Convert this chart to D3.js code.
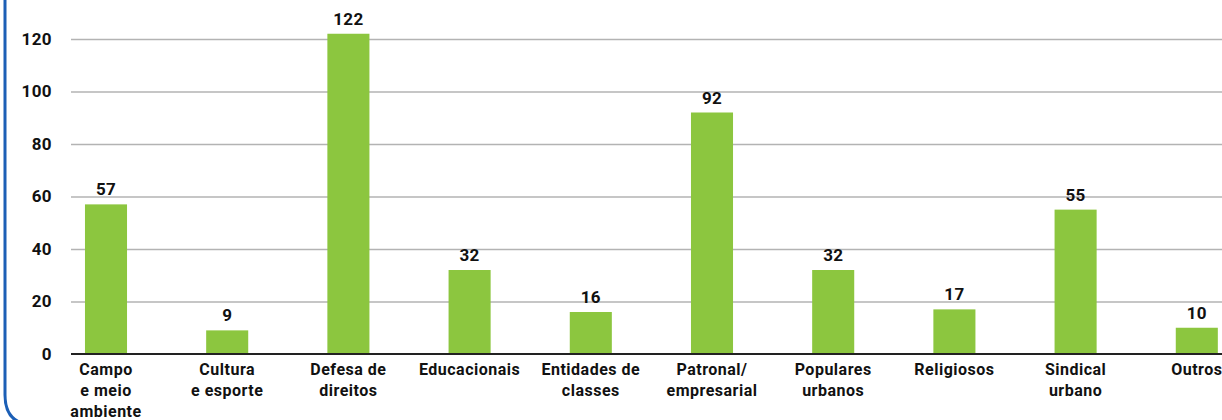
<!DOCTYPE html>
<html><head><meta charset="utf-8">
<script src="https://cdn.jsdelivr.net/npm/d3@7"></script>
<style>
html,body{margin:0;padding:0;background:#fff;overflow:hidden;}
svg{display:block;font-family:Roboto,"Open Sans",sans-serif;}
</style></head>
<body>
<svg id="c" width="1222" height="420"></svg>
<script>
const categories = [
  ["Campo","e meio","ambiente"],
  ["Cultura","e esporte"],
  ["Defesa de","direitos"],
  ["Educacionais"],
  ["Entidades de","classes"],
  ["Patronal/","empresarial"],
  ["Populares","urbanos"],
  ["Religiosos"],
  ["Sindical","urbano"],
  ["Outros"]
];
const values = [57, 9, 122, 32, 16, 92, 32, 17, 55, 10];
const yTicks = [0, 20, 40, 60, 80, 100, 120];

const svg = d3.select("#c");
const keys = categories.map((c,i)=>i);

const x = d3.scaleBand().domain(keys).range([45.4, 1257.4])
  .paddingInner(0.653).paddingOuter(0.3265);
const y = d3.scaleLinear().domain([0, 120]).range([354, 39]);

// border
svg.append("path")
  .attr("d", "M5,-5 L5,395 Q5,425 35,425 L1300,425")
  .attr("fill","none").attr("stroke","#1c5fb6").attr("stroke-width",3);

// gridlines
const grid = svg.append("g").attr("transform","translate(71,0)")
  .call(d3.axisLeft(y).tickValues(yTicks.filter(t=>t>0)).tickSize(-1160).tickFormat(""));
grid.select(".domain").remove();
grid.selectAll("line").attr("stroke","#b3b3b3").attr("stroke-width",1.5);

// y tick labels
const yAxis = svg.append("g").attr("transform","translate(52,0)")
  .call(d3.axisLeft(y).tickValues(yTicks).tickSize(0).tickPadding(0));
yAxis.select(".domain").remove();
yAxis.selectAll("text").attr("font-size",17).attr("font-weight",700)
  .attr("letter-spacing","0.4px")
  .attr("fill","#111").attr("font-family","Roboto,sans-serif");

// bars
svg.append("g").selectAll("rect").data(values).join("rect")
  .attr("x",(d,i)=>x(i)).attr("width",x.bandwidth())
  .attr("y",d=>y(d)).attr("height",d=>y(0)-y(d))
  .attr("fill","#8cc63f");

// baseline
svg.append("line").attr("x1",71).attr("x2",1222).attr("y1",y(0)).attr("y2",y(0))
  .attr("stroke","#222").attr("stroke-width",2);

// value labels
svg.append("g").selectAll("text").data(values).join("text")
  .attr("x",(d,i)=>x(i)+x.bandwidth()/2).attr("y",d=>y(d)-9)
  .attr("text-anchor","middle").attr("font-size",17).attr("font-weight",700)
  .attr("letter-spacing","0.3px")
  .attr("fill","#111").text(d=>d);

// category labels
const xl = svg.append("g");
categories.forEach((lines,i)=>{
  const t = xl.append("text").attr("text-anchor","middle")
    .attr("font-size",16).attr("font-weight",700).attr("letter-spacing","0.5px")
    .attr("fill","#111");
  lines.forEach((ln,j)=>{
    t.append("tspan").attr("x",x(i)+x.bandwidth()/2).attr("y",375+j*21).text(ln);
  });
});
</script>
</body></html>
